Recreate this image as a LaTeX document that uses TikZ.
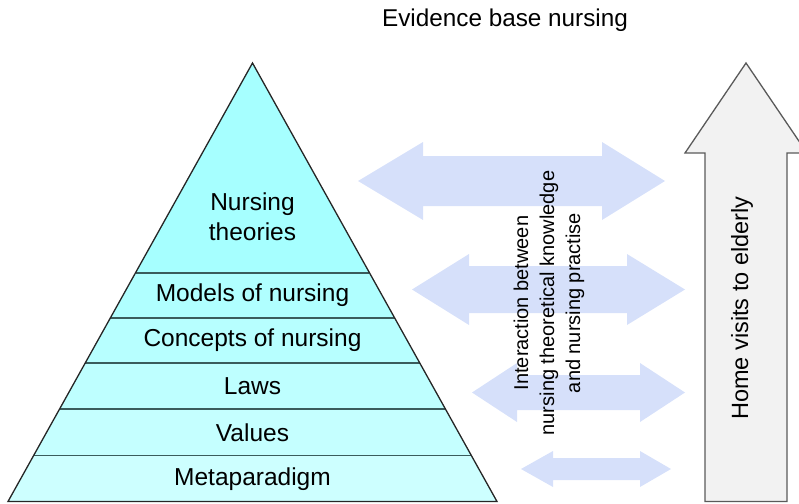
\documentclass[tikz,border=0pt]{standalone}
\usepackage{fontspec}
\setmainfont{Liberation Sans}
\usetikzlibrary{calc}
\definecolor{bandA}{HTML}{A6FFFF}
\definecolor{bandB}{HTML}{B0FFFF}
\definecolor{bandC}{HTML}{B7FFFF}
\definecolor{bandD}{HTML}{BEFFFF}
\definecolor{bandE}{HTML}{C5FFFF}
\definecolor{bandF}{HTML}{CDFFFF}
\definecolor{sepline}{HTML}{3A5C5C}
\definecolor{linkblue}{RGB}{214,224,250}
\definecolor{elderfill}{HTML}{F2F2F2}
\definecolor{elderline}{HTML}{5A5A5A}
\tikzset{
  layer/.style={font=\fontsize{24.5}{30}\selectfont, align=center, inner sep=0pt},
  sep/.style={draw=sepline, line width=1.8pt},
  outline/.style={draw=black!85, line width=1.3pt, line join=miter},
  link/.style={fill=linkblue},
  elder/.style={fill=elderfill, draw=elderline, line width=1.3pt},
}
\begin{document}
\begin{tikzpicture}[x=1pt,y=-1pt]
  \useasboundingbox (0,0) rectangle (799,503);
  % pyramid corners
  \coordinate (apex) at (252.5,63);
  \coordinate (bl) at (8,501.5);
  \coordinate (br) at (497,501.5);
  % band edges
  \coordinate (aL) at ($(apex)!0.4784!(bl)$);
  \coordinate (aR) at ($(apex)!0.4784!(br)$);
  \coordinate (bL) at ($(apex)!0.5809!(bl)$);
  \coordinate (bR) at ($(apex)!0.5809!(br)$);
  \coordinate (cL) at ($(apex)!0.6834!(bl)$);
  \coordinate (cR) at ($(apex)!0.6834!(br)$);
  \coordinate (dL) at ($(apex)!0.7882!(bl)$);
  \coordinate (dR) at ($(apex)!0.7882!(br)$);
  \coordinate (eL) at ($(apex)!0.8952!(bl)$);
  \coordinate (eR) at ($(apex)!0.8952!(br)$);
  \fill[bandA] (apex) -- (aR) -- (aL) -- cycle;
  \fill[bandB] (aL) -- (aR) -- (bR) -- (bL) -- cycle;
  \fill[bandC] (bL) -- (bR) -- (cR) -- (cL) -- cycle;
  \fill[bandD] (cL) -- (cR) -- (dR) -- (dL) -- cycle;
  \fill[bandE] (dL) -- (dR) -- (eR) -- (eL) -- cycle;
  \fill[bandF] (eL) -- (eR) -- (br) -- (bl) -- cycle;
  \draw[sep] (aL) -- (aR);
  \draw[sep] (bL) -- (bR);
  \draw[sep] (cL) -- (cR);
  \draw[sep] (dL) -- (dR);
  \draw[sep] (eL) -- (eR);
  \draw[outline] (apex) -- (br) -- (bl) -- cycle;
  % layer labels
  \node[layer] (theories) at (252.5,217) {Nursing\\theories};
  \node[layer] (models) at (252.5,295.5) {Models of nursing};
  \node[layer] (concepts) at (252.5,340.5) {Concepts of nursing};
  \node[layer] (laws) at (252.5,386) {Laws};
  \node[layer] (values) at (252.5,432.5) {Values};
  \node[layer] (meta) at (252.5,479) {Metaparadigm};
  % interaction arrows
  \fill[link] (358,181) -- (423,142) -- (423,156) -- (602,156) -- (602,142) -- (665,181)
    -- (602,220) -- (602,206) -- (423,206) -- (423,220) -- cycle;
  \fill[link] (412,289.5) -- (469,254) -- (469,266) -- (627,266) -- (627,254) -- (685,289.5)
    -- (627,325) -- (627,313) -- (469,313) -- (469,325) -- cycle;
  \fill[link] (472,392.5) -- (517,363) -- (517,375) -- (640,375) -- (640,363) -- (685,392.5)
    -- (640,422) -- (640,410) -- (517,410) -- (517,422) -- cycle;
  \fill[link] (521,469) -- (553,451) -- (553,458) -- (640,458) -- (640,451) -- (671,469)
    -- (640,487) -- (640,480) -- (553,480) -- (553,487) -- cycle;
  \node[rotate=90, align=center, inner sep=0pt, font=\fontsize{20}{26}\selectfont]
    (interaction) at (549,303) {Interaction between\\nursing theoretical knowledge\\and nursing practise};
  % home visits arrow
  \filldraw[elder] (705,501.5) -- (705,153) -- (685,153) -- (746,63) -- (807,153)
    -- (787,153) -- (787,501.5) -- cycle;
  \node[rotate=90, inner sep=0pt, font=\fontsize{23.5}{28}\selectfont]
    (visits) at (742,308) {Home visits to elderly};
  \node[inner sep=0pt, font=\fontsize{24.3}{29}\selectfont]
    (title) at (505,20) {Evidence base nursing};
\end{tikzpicture}
\end{document}
